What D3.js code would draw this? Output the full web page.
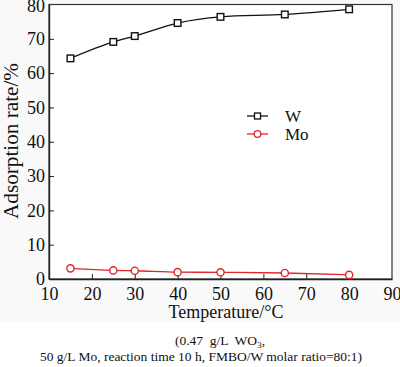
<!DOCTYPE html>
<html>
<head>
<meta charset="utf-8">
<script src="https://cdn.jsdelivr.net/npm/d3@7"></script>
<style>
body { margin: 0; background: #fff; }
svg { display: block; font-family: "Liberation Serif", "Times New Roman", serif; }
</style>
</head>
<body>
<script>
// chart data
var temps = [15, 25, 30, 40, 50, 65, 80];
var wRate = [64.3, 69.1, 70.8, 74.6, 76.4, 77.1, 78.6];
var moRate = [3.1, 2.5, 2.4, 2.0, 1.95, 1.75, 1.2];
var xTicks = [10, 20, 30, 40, 50, 60, 70, 80, 90];
var yTicks = [0, 10, 20, 30, 40, 50, 60, 70, 80];

window.onload = drawChart();

function drawChart(){

    var width = 400,
        height = 367;

    var svg = d3.select("body")
        .append("svg")
        .attr("width", width)
        .attr("height", height);

    //faint grey band behind the plot part of the picture
    svg.append("rect")
        .attr("x", 0).attr("y", 0)
        .attr("width", width).attr("height", 322)
        .attr("fill", "#f9f9f9");

    var left = 49, right = 392, top = 4.5, bottom = 279;

    var x = d3.scaleLinear().domain([10, 90]).range([left, right]);
    var y = d3.scaleLinear().domain([0, 80]).range([bottom, top]);

    //plot frame
    svg.append("rect")
        .attr("x", left).attr("y", top)
        .attr("width", right - left).attr("height", bottom - top)
        .attr("fill", "#fff")
        .attr("stroke", "#333")
        .attr("stroke-width", 1.2);

    //bottom axis, ticks pointing inward
    var xAxis = svg.append("g")
        .attr("transform", "translate(0," + bottom + ")")
        .call(d3.axisBottom(x).tickValues(xTicks).tickSizeInner(-5).tickSizeOuter(0).tickPadding(8));
    xAxis.attr("font-family", null);
    xAxis.select(".domain").attr("stroke", "#222").attr("stroke-width", 1.4);
    xAxis.selectAll(".tick line").attr("stroke", "#222");
    xAxis.selectAll(".tick").filter(function(d){ return d === 10 || d === 90; }).select("line").remove();
    xAxis.selectAll("text").attr("font-size", 18).attr("fill", "#111");

    //left axis
    var yAxis = svg.append("g")
        .attr("transform", "translate(" + left + ",0)")
        .call(d3.axisLeft(y).tickValues(yTicks).tickSizeInner(-5).tickSizeOuter(0).tickPadding(4));
    yAxis.attr("font-family", null);
    yAxis.select(".domain").attr("stroke", "#222").attr("stroke-width", 1.4);
    yAxis.selectAll(".tick line").attr("stroke", "#222");
    yAxis.selectAll(".tick").filter(function(d){ return d === 0 || d === 80; }).select("line").remove();
    yAxis.selectAll("text").attr("font-size", 18).attr("fill", "#111");
    yAxis.selectAll(".tick").filter(function(d){ return d === 80; }).select("text").attr("dy", "0.4em");

    //axis titles
    svg.append("text")
        .attr("x", 226).attr("y", 318)
        .attr("text-anchor", "middle")
        .attr("font-size", 18)
        .attr("fill", "#111")
        .text("Temperature/°C");

    svg.append("text")
        .attr("transform", "translate(18,141) rotate(-90)")
        .attr("text-anchor", "middle")
        .attr("font-size", 20)
        .attr("textLength", 156)
        .attr("lengthAdjust", "spacingAndGlyphs")
        .attr("fill", "#111")
        .text("Adsorption rate/%");

    //W series: smooth black curve with squares
    var wData = temps.map(function(t, i){ return [t, wRate[i]]; });
    var moData = temps.map(function(t, i){ return [t, moRate[i]]; });

    var line = d3.line()
        .x(function(d){ return x(d[0]); })
        .y(function(d){ return y(d[1]); })
        .curve(d3.curveMonotoneX);

    svg.append("path")
        .datum(wData)
        .attr("fill", "none")
        .attr("stroke", "#111")
        .attr("stroke-width", 1.3)
        .attr("d", line);

    svg.selectAll(".wPts")
        .data(wData)
        .enter()
        .append("rect")
        .attr("class", "wPts")
        .attr("x", function(d){ return x(d[0]) - 3.3; })
        .attr("y", function(d){ return y(d[1]) - 3.3; })
        .attr("width", 6.6).attr("height", 6.6)
        .attr("fill", "#fff")
        .attr("stroke", "#111")
        .attr("stroke-width", 1.4);

    //Mo series: red line with circles
    svg.append("path")
        .datum(moData)
        .attr("fill", "none")
        .attr("stroke", "#e0252b")
        .attr("stroke-width", 1.3)
        .attr("d", line);

    svg.selectAll(".moPts")
        .data(moData)
        .enter()
        .append("circle")
        .attr("class", "moPts")
        .attr("cx", function(d){ return x(d[0]); })
        .attr("cy", function(d){ return y(d[1]); })
        .attr("r", 3.6)
        .attr("fill", "#fff")
        .attr("stroke", "#e0252b")
        .attr("stroke-width", 1.4);

    //legend
    var legend = svg.append("g");
    var items = [
        {name: "W", color: "#111", shape: "square", ly: 116},
        {name: "Mo", color: "#e0252b", shape: "circle", ly: 134}
    ];
    items.forEach(function(it){
        legend.append("line")
            .attr("x1", 247).attr("x2", 268)
            .attr("y1", it.ly).attr("y2", it.ly)
            .attr("stroke", it.color).attr("stroke-width", 1.3);
        if (it.shape === "square") {
            legend.append("rect")
                .attr("x", 254.5).attr("y", it.ly - 3)
                .attr("width", 6).attr("height", 6)
                .attr("fill", "#fff").attr("stroke", it.color).attr("stroke-width", 1.3);
        } else {
            legend.append("circle")
                .attr("cx", 257.5).attr("cy", it.ly)
                .attr("r", 3.3)
                .attr("fill", "#fff").attr("stroke", it.color).attr("stroke-width", 1.3);
        }
        legend.append("text")
            .attr("x", 285).attr("y", it.ly + 6)
            .attr("font-size", 17)
            .attr("fill", "#111")
            .text(it.name);
    });

    //caption under the chart
    var cap1 = svg.append("text")
        .attr("x", 220).attr("y", 345)
        .attr("text-anchor", "middle")
        .attr("font-size", 13.5)
        .attr("fill", "#111")
        .style("white-space", "pre");
    cap1.append("tspan").text("(0.47  g/L  WO");
    cap1.append("tspan").attr("font-size", 9).attr("dy", 3).text("3");
    cap1.append("tspan").attr("dy", -3).text(",");

    svg.append("text")
        .attr("x", 201).attr("y", 361)
        .attr("text-anchor", "middle")
        .attr("font-size", 13.5)
        .attr("fill", "#111")
        .text("50 g/L Mo, reaction time 10 h, FMBO/W molar ratio=80:1)");
};
</script>
</body>
</html>
